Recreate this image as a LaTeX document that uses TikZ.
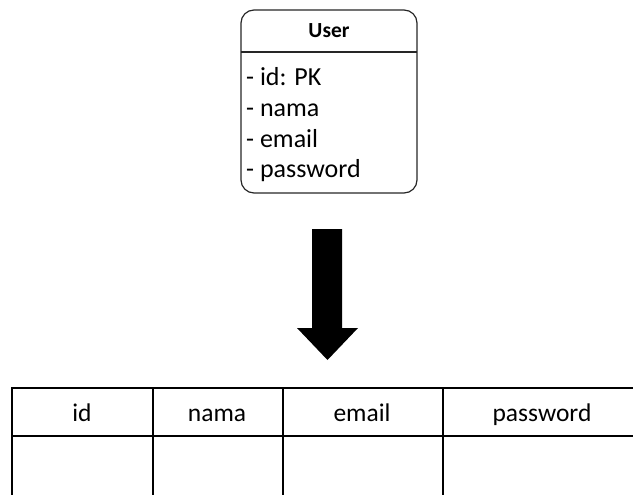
\documentclass[tikz,border=0pt]{standalone}
\usepackage{fontspec}
\setmainfont{Carlito}
\begin{document}
\begin{tikzpicture}[x=1pt,y=-1pt,
  entitybox/.style={draw=black!85,line width=1.2pt,rounded corners=13pt},
  attr/.style={anchor=base west,inner sep=0pt,font=\fontsize{26}{28}\selectfont},
  colhead/.style={anchor=base,inner sep=0pt,font=\fontsize{25.5}{27}\selectfont},
  grid/.style={draw=black,line width=2pt},
  bigarrow/.style={fill=black,draw=none}]
\useasboundingbox (0,0) rectangle (633,495);
\clip (0,0) rectangle (633,495);

% entity box
\draw[entitybox] (241,10) rectangle (417,193);
\draw[draw=black!85,line width=1.2pt] (241,52) -- (417,52);
\node[anchor=base,inner sep=0pt,font=\bfseries\fontsize{21.5}{23}\selectfont] (title) at (329,38) {User};
\node[attr] (a1) at (246,86) {- id: PK};
\node[attr] (a2) at (246,116.5) {- nama};
\node[attr] (a3) at (246,147.5) {- email};
\node[attr] (a4) at (246,178) {- password};

% block arrow
\fill[bigarrow] (312,229) -- (342,229) -- (342,328) -- (358,328) -- (327.5,360)
  -- (297,328) -- (312,328) -- cycle;

% table
\draw[grid] (12,388) rectangle (645,520);
\draw[grid] (12,436) -- (645,436);
\draw[grid] (153,388) -- (153,520);
\draw[grid] (283,388) -- (283,520);
\draw[grid] (443,388) -- (443,520);
\node[colhead] (c1) at (82,421) {id};
\node[colhead] (c2) at (217,421) {nama};
\node[colhead] (c3) at (362,421) {email};
\node[colhead] (c4) at (542,421) {password};
\end{tikzpicture}
\end{document}
